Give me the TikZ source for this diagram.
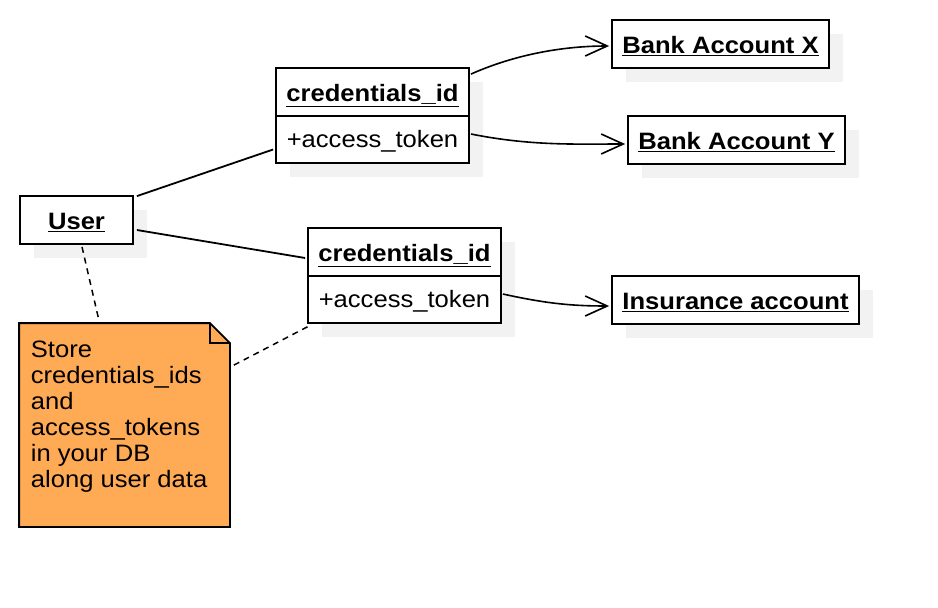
\documentclass[tikz,border=0pt]{standalone}
\usepackage{fontspec}
\setmainfont[FakeStretch=1.08]{Liberation Sans}
\usetikzlibrary{arrows.meta,calc,shadows}
\definecolor{shgray}{RGB}{242,242,242}
\definecolor{notefill}{RGB}{255,170,85}
\begin{document}
\begin{tikzpicture}[x=1pt,y=-1pt,line width=1.8pt,
  box/.style={draw,fill=white,inner sep=0pt,
    drop shadow={shadow xshift=14pt,shadow yshift=-14pt,fill=shgray,opacity=1}},
  ttl/.style={font=\fontsize{23.7}{26}\selectfont\bfseries,inner sep=0pt,anchor=base},
  attr/.style={font=\fontsize{23.7}{26}\selectfont,inner sep=0pt},
  link/.style={line width=1.8pt},
  nav/.style={line width=1.6pt,-{Straight Barb[length=22pt,width=20pt]}},
  dep/.style={line width=1.5pt,dash pattern=on 6pt off 5pt}]
\useasboundingbox (0,0) rectangle (938,608);

% User
\node[box,minimum width=113pt,minimum height=48pt] (u) at (76.5,220) {};
\node[ttl] (ut) at (76.5,229.5) {\underline{User}};

% credentials 1
\node[box,minimum width=193pt,minimum height=95pt] (c1) at (372.5,115.5) {};
\node[ttl] (c1t) at (372.5,101.5) {\underline{credentials\_id}};
\node[attr,anchor=base] (c1a) at (372.5,147.5) {+access\_token};
\draw ([yshift=-49pt]c1.north west) -- ([yshift=-49pt]c1.north east);

% credentials 2
\node[box,minimum width=193pt,minimum height=95pt] (c2) at (404.5,275.5) {};
\node[ttl] (c2t) at (404.5,261.5) {\underline{credentials\_id}};
\node[attr,anchor=base] (c2a) at (404.5,307.5) {+access\_token};
\draw ([yshift=-49pt]c2.north west) -- ([yshift=-49pt]c2.north east);

% accounts
\node[box,minimum width=217pt,minimum height=48pt] (bx) at (720.5,44) {};
\node[ttl] (bxt) at (720.5,53.5) {\underline{Bank Account X}};
\node[box,minimum width=217pt,minimum height=48pt] (by) at (736.5,140) {};
\node[ttl] (byt) at (736.5,149.5) {\underline{Bank Account Y}};
\node[box,minimum width=247pt,minimum height=48pt] (ins) at (735.5,300) {};
\node[ttl] (inst) at (735.5,309.5) {\underline{Insurance account}};

% note
\node[minimum width=209pt,minimum height=202pt,inner sep=0pt] (n) at (124.5,425) {};
\draw[fill=notefill] (n.north west) -- ([xshift=-20pt]n.north east) -- ([yshift=-20pt]n.north east)
  -- (n.south east) -- (n.south west) -- cycle;
\draw[line width=1.6pt] ([xshift=-20pt]n.north east) -- ([xshift=-20pt,yshift=-20pt]n.north east) -- ([yshift=-20pt]n.north east);
\node[attr,align=left,anchor=north west] (nt) at (30,340) {Store\\credentials\_ids\\and\\access\_tokens\\in your DB\\along user data};

% connectors
\draw[link] ([shift={(3,1)}]u.north east) -- ([shift={(-2,34)}]c1.west);
\draw[link] ([shift={(3,10)}]u.east) -- ([shift={(-2,-17.5)}]c2.west);
\draw[dep] ([shift={(5.5,2)}]u.south) -- ([shift={(80,-2)}]n.north west);
\draw[dep] ([shift={(4,42)}]n.north east) -- ([shift={(4,1)}]c2.south west);
\draw[nav] ([shift={(1,7)}]c1.north east) .. controls +(45,-20) and +(-45,0) .. ([shift={(-2,2)}]bx.west);
\draw[nav] ([shift={(1,18.5)}]c1.east) .. controls +(60,12) and +(-50,0) .. ([shift={(-2,4)}]by.west);
\draw[nav] ([shift={(1,18.5)}]c2.east) .. controls +(45,10) and +(-35,0) .. ([shift={(-2,6)}]ins.west);
\end{tikzpicture}
\end{document}
